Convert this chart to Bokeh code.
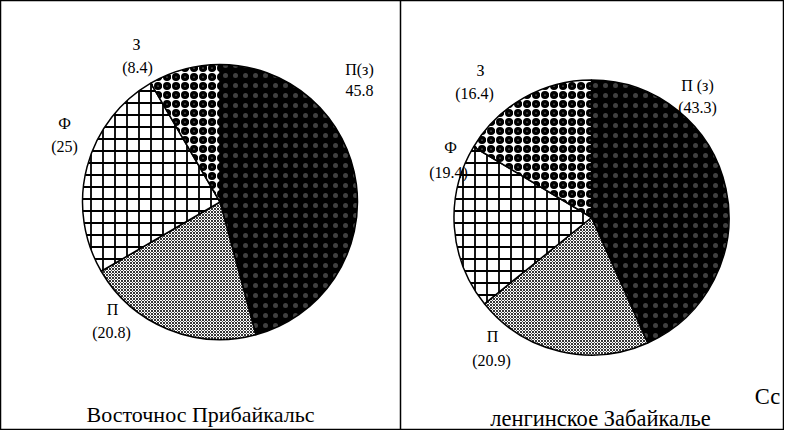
import math
from bokeh.plotting import figure
from bokeh.models import Range1d, Span, Label
from bokeh.embed import file_html
from bokeh.resources import INLINE

# ---- data ----
categories = ["П(з)", "П", "Ф", "З"]
left_values = [45.8, 20.8, 25.0, 8.4]
right_values = [43.3, 20.9, 19.4, 16.4]
left_names = ["П(з)", "П", "Ф", "З"]
right_names = ["П (з)", "П", "Ф", "З"]
left_value_labels = ["45.8", "(20.8)", "(25)", "(8.4)"]
right_value_labels = ["(43.3)", "(20.9)", "(19.4)", "(16.4)"]
left_title = "Восточнос Прибайкальс"
right_title = "ленгинское Забайкалье"
right_extra = "Сс"

# ---- layout (pixel space, y downward) ----
FIG_W, FIG_H = 784, 430
left_center = (219.5, 201.5)
right_center = (591.0, 217.0)
radius = 137.5
left_label_pos = [(359, 69), (112, 309), (64, 123), (136, 44)]
left_value_pos = [(359, 90), (111, 332), (64, 146), (137, 67)]
right_label_pos = [(697, 85), (492, 336), (450, 147), (480, 70)]
right_value_pos = [(697, 107), (491, 360), (448, 172), (474, 93)]

styles = {
    "П(з)": dict(fill_color="black", hatch_pattern="dot", hatch_color="white", hatch_scale=10,
                 hatch_weight=1, hatch_alpha=0.25),
    "П": dict(fill_color="white", hatch_pattern="diagonal_cross", hatch_color="black", hatch_scale=3, hatch_weight=0.8),
    "Ф": dict(fill_color="white", hatch_pattern="cross", hatch_color="black", hatch_scale=12, hatch_weight=1.8),
    "З": dict(fill_color="white", hatch_pattern="ring", hatch_color="black", hatch_scale=9, hatch_weight=3.5),
}


def Y(y):
    return FIG_H - y


p = figure(width=FIG_W, height=FIG_H, x_range=Range1d(0, FIG_W), y_range=Range1d(0, FIG_H),
           output_backend="svg", toolbar_location=None, min_border=0)
p.axis.visible = False
p.grid.visible = False
p.outline_line_color = "black"
p.outline_line_width = 1.5
p.background_fill_color = "white"

p.add_layout(Span(location=400, dimension="height", line_color="black", line_width=1.5))

FONT = "Liberation Serif"


def draw_pie(center, values):
    total = sum(values)
    cum = 0.0
    for cat, v in zip(categories, values):
        start = math.pi / 2 - 2 * math.pi * cum / total
        cum += v
        end = math.pi / 2 - 2 * math.pi * cum / total
        p.wedge(x=[center[0]], y=[Y(center[1])], radius=radius,
                start_angle=[start], end_angle=[end], direction="clock",
                line_color="black", line_width=1.5, **styles[cat])


def add_label(x, y, t, size):
    p.add_layout(Label(x=x, y=Y(y), text=t, text_font=FONT, text_font_size=size,
                       text_align="center", text_baseline="middle", text_color="black"))


draw_pie(left_center, left_values)
draw_pie(right_center, right_values)
for names, vlabels, npos, vpos in [(left_names, left_value_labels, left_label_pos, left_value_pos),
                                   (right_names, right_value_labels, right_label_pos, right_value_pos)]:
    for t, q in zip(names, npos):
        add_label(q[0], q[1], t, "16px")
    for t, q in zip(vlabels, vpos):
        add_label(q[0], q[1], t, "16px")

add_label(200, 414, left_title, "22px")
add_label(600, 418, right_title, "22.5px")
add_label(767, 396, right_extra, "22.5px")

open("out.html", "w").write(file_html(p, INLINE))
